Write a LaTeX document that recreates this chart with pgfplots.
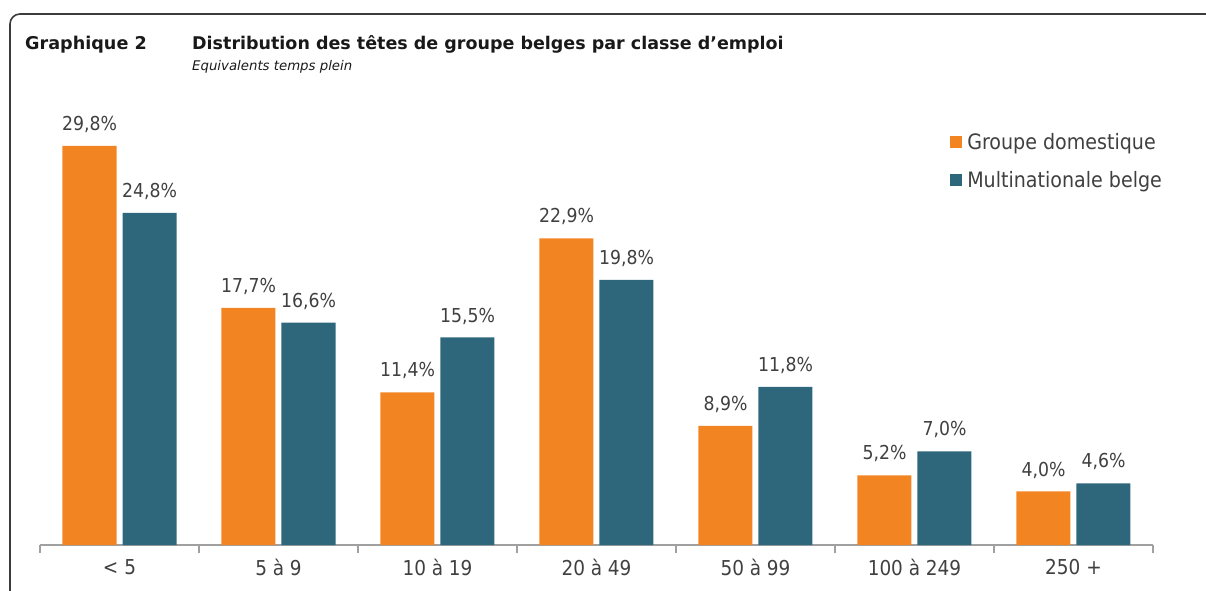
\documentclass[border=0pt]{standalone}
\usepackage{pgfplots}
\pgfplotsset{compat=1.18}
\usepackage{fontspec}
\setmainfont{DejaVu Sans}
\newfontfamily\cond{DejaVu Sans Condensed}
\definecolor{orangec}{RGB}{242,133,34}
\definecolor{tealc}{RGB}{46,103,124}
\definecolor{txt}{RGB}{64,64,64}
\definecolor{axc}{RGB}{160,160,160}
\definecolor{framec}{RGB}{60,60,60}
\begin{document}
\begin{tikzpicture}[x=1pt,y=1pt]
\begin{pgfinterruptboundingbox}
\begin{axis}[
  name=ax, scale only axis,
  width=1113pt, height=428.5pt,
  xmin=-0.5, xmax=6.5, ymin=0, ymax=32,
  ybar=6pt, bar width=54pt,
  axis x line=bottom, axis y line=none,
  x axis line style={-, draw=axc, line width=1.5pt},
  xtick={0,...,6},
  xticklabels={{< 5},{5 à 9},{10 à 19},{20 à 49},{50 à 99},{100 à 249},{250 +}},
  major tick length=0pt,
  minor xtick={-0.5,0.5,...,6.5},
  minor tick length=8pt,
  xtick align=outside,
  minor tick style={draw=axc, line width=1.3pt},
  ytick=\empty,
  xticklabel style={font=\cond\fontsize{20.5}{22}\selectfont, text=txt, yshift=-11pt},
  clip=false,
  nodes near coords={\pgfmathprintnumber[fixed,fixed zerofill,precision=1,use comma,assume math mode=true]{\pgfplotspointmeta}\%},
  every node near coord/.append style={font=\cond\fontsize{19.2}{21}\selectfont, text=txt, inner sep=0pt, anchor=south, yshift=13pt},
  legend style={draw=none, fill=none, at={(0.815,0.97)}, anchor=north west, font=\cond\fontsize{21.2}{23}\selectfont, text=txt, row sep=16pt, cells={anchor=west}},
  legend cell align=left,
]
\addplot[fill=orangec, draw=none, legend image code/.code={\fill[orangec] (0pt,-6pt) rectangle (12pt,6pt); \path (15pt,0pt);}] coordinates {(0,29.8) (1,17.7) (2,11.4) (3,22.9) (4,8.9) (5,5.2) (6,4.0)};
\addplot[fill=tealc, draw=none, legend image code/.code={\fill[tealc] (0pt,-6pt) rectangle (12pt,6pt); \path (15pt,0pt);}] coordinates {(0,24.8) (1,16.6) (2,15.5) (3,19.8) (4,11.8) (5,7.0) (6,4.6)};
\legend{Groupe domestique, Multinationale belge}
\end{axis}
\end{pgfinterruptboundingbox}
\path (ax.south west) ++(-40,-45) coordinate (O);
\path[use as bounding box] (O) rectangle ++(1206,590);
\begin{scope}[shift={(O)}]
\draw[framec, line width=1.6pt, rounded corners=10pt] (10,-10) -- (10,576) -- (1220,576);
\node[anchor=base west, inner sep=0, font=\bfseries\fontsize{17.6}{20}\selectfont, text=black!90] at (25,540) {Graphique 2};
\node[anchor=base west, inner sep=0, font=\bfseries\fontsize{17.5}{20}\selectfont, text=black!90] at (192,540) {Distribution des têtes de groupe belges par classe d’emploi};
\node[anchor=base west, inner sep=0, font=\itshape\fontsize{13.3}{15}\selectfont, text=black!90] at (192,519) {Equivalents temps plein};
\end{scope}
\end{tikzpicture}
\end{document}
